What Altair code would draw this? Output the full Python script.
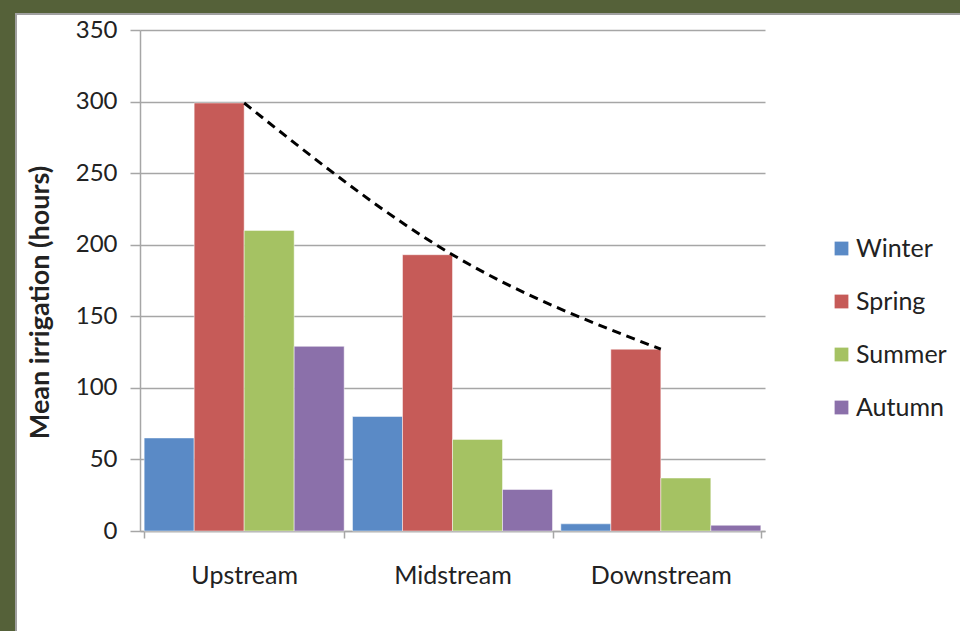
import altair as alt
import pandas as pd

# Irrigation hours by river reach and season
reaches = ["Upstream", "Midstream", "Downstream"]
seasons = ["Winter", "Spring", "Summer", "Autumn"]
winter = [65, 80, 5]
spring = [299, 193, 127]
summer = [210, 64, 37]
autumn = [129, 29, 4]
season_colors = ["#5a8ac6", "#c65b58", "#a5c263", "#8b70aa"]
y_ticks = [0, 50, 100, 150, 200, 250, 300, 350]

rows = []
for series_name, values in zip(seasons, [winter, spring, summer, autumn]):
    for reach, v in zip(reaches, values):
        rows.append({"Reach": reach, "Season": series_name, "Hours": v})
bars_df = pd.DataFrame(rows)
trend_df = pd.DataFrame({"Reach": reaches, "Hours": spring})

FONT = "Lato"
TXT = "#222222"
GRID = "#a6a6a6"

x_scale = alt.Scale(domain=reaches, paddingInner=0.04, paddingOuter=0.02)
y_scale = alt.Scale(domain=[0, 350], nice=False)

x_axis = alt.Axis(
    title=None, labelAngle=0, labelFontSize=25, labelFont=FONT, labelColor=TXT,
    labelPadding=25, tickBand="extent", tickSize=7, tickColor=GRID, tickWidth=1.5,
    domainColor=GRID, domainWidth=1.5, grid=False,
)
y_axis = alt.Axis(
    title="Mean irrigation (hours)", values=y_ticks, labelFontSize=24, labelFont=FONT,
    labelColor=TXT, labelPadding=13, tickSize=10, tickColor=GRID, tickWidth=1.5,
    domainColor=GRID, domainWidth=1.5, gridColor=GRID, gridWidth=1.5,
    titleFont=FONT, titleFontSize=27, titleFontWeight="bold", titleColor=TXT,
    titleX=-100, titleY=272, titleAngle=-90, titleAlign="center", titleBaseline="middle",
)

bars = alt.Chart(bars_df).mark_bar(stroke="#ffffff", strokeWidth=0.8, strokeOpacity=0.6).encode(
    x=alt.X("Reach:N", scale=x_scale, axis=x_axis, sort=reaches),
    xOffset=alt.XOffset("Season:N", sort=seasons, scale=alt.Scale(domain=seasons, paddingInner=0, paddingOuter=0)),
    y=alt.Y("Hours:Q", scale=y_scale, axis=y_axis),
    color=alt.Color(
        "Season:N",
        scale=alt.Scale(domain=seasons, range=season_colors),
        legend=alt.Legend(
            title=None, orient="none", legendX=689, legendY=206,
            symbolType="square", symbolSize=190, symbolStrokeWidth=0,
            labelFont=FONT, labelFontSize=25, labelColor=TXT, labelOffset=2,
            rowPadding=27,
        ),
    ),
)

trend = alt.Chart(trend_df).mark_line(
    color="#000000", strokeWidth=3, strokeDash=[9, 6], interpolate="monotone"
).encode(
    x=alt.X("Reach:N", scale=x_scale, sort=reaches),
    y=alt.Y("Hours:Q", scale=y_scale),
)

# Slide frame: olive band along the top and left edges with a grey inner rim
frame_src = alt.Data(values=[{"k": 1}])
frame_left = alt.Chart(frame_src).mark_rect(color="#556139", clip=False).encode(
    x=alt.value(-140), x2=alt.value(-125), y=alt.value(-30), y2=alt.value(601)
)
frame_top = alt.Chart(frame_src).mark_rect(color="#556139", clip=False).encode(
    x=alt.value(-140), x2=alt.value(820), y=alt.value(-30), y2=alt.value(-17)
)
rim_left = alt.Chart(frame_src).mark_rect(color="#a0a0a0", clip=False).encode(
    x=alt.value(-125), x2=alt.value(-123), y=alt.value(-17), y2=alt.value(601)
)
rim_top = alt.Chart(frame_src).mark_rect(color="#a0a0a0", clip=False).encode(
    x=alt.value(-125), x2=alt.value(820), y=alt.value(-17), y2=alt.value(-15)
)

chart = alt.layer(bars, trend, frame_left, frame_top, rim_left, rim_top).properties(
    width=625,
    height=501,
    padding={"left": 140, "top": 30, "right": 195, "bottom": 100},
    autosize="none",
    background="#ffffff",
).configure_view(stroke=None)

chart.save("out.html", embed_options={"renderer": "svg", "actions": False})
